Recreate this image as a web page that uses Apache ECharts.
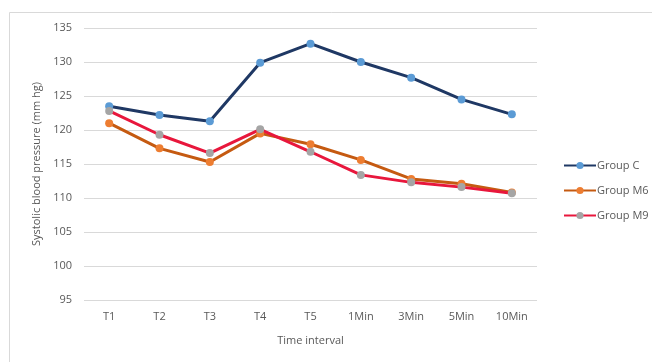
<!DOCTYPE html>
<html>
<head>
<meta charset="utf-8">
<style>
  html, body { margin: 0; padding: 0; background: #fff; }
  #chart { width: 652px; height: 362px; }
</style>
<script src="https://cdn.jsdelivr.net/npm/echarts@6/dist/echarts.min.js"></script>
</head>
<body>
<div id="chart"></div>
<script>
// Time points on the x axis
const categories = ['T1', 'T2', 'T3', 'T4', 'T5', '1Min', '3Min', '5Min', '10Min'];

// Mean systolic blood pressure (mm hg) per group
const groupC  = [123.5, 122.2, 121.3, 129.9, 132.7, 130.0, 127.7, 124.5, 122.3];
const groupM6 = [121.0, 117.3, 115.3, 119.5, 117.9, 115.6, 112.8, 112.1, 110.8];
const groupM9 = [122.8, 119.3, 116.6, 120.1, 116.8, 113.4, 112.3, 111.6, 110.7];

const seriesNames = ['Group C', 'Group M6', 'Group M9'];

// Y axis range
const yMin = 95, yMax = 135, yStep = 5;

const FONT = '"Open Sans", Lato, sans-serif';
const TEXT = '#595959';

function lineSeries(name, data, lineColor, markerColor) {
  return {
    name: name,
    type: 'line',
    data: data,
    symbol: 'circle',
    symbolSize: 8,
    lineStyle: { color: lineColor, width: 3 },
    itemStyle: { color: markerColor, borderWidth: 0 },
    emphasis: { disabled: true },
    z: 2
  };
}

const chart = echarts.init(document.getElementById('chart'));
chart.setOption({
  animation: false,
  backgroundColor: '#fff',
  textStyle: { fontFamily: FONT, color: TEXT },
  graphic: [{
    type: 'rect',
    shape: { x: 9.5, y: 12.5, width: 700, height: 400 },
    style: { fill: 'none', stroke: '#D9D9D9', lineWidth: 1 },
    silent: true,
    z: -1
  }],
  grid: { left: 84, right: 115, top: 28, bottom: 62 },
  legend: {
    orient: 'vertical',
    left: 558,
    top: 155,
    itemWidth: 32,
    itemHeight: 9,
    itemGap: 14,
    textStyle: { fontFamily: FONT, fontSize: 11, color: TEXT, padding: [0, 0, 0, -4] },
    data: seriesNames
  },
  xAxis: {
    type: 'category',
    data: categories,
    boundaryGap: true,
    name: 'Time interval',
    nameLocation: 'middle',
    nameGap: 35,
    nameTextStyle: { fontFamily: FONT, fontSize: 11, color: TEXT },
    axisLine: { show: false },
    axisTick: { show: false },
    axisLabel: { fontFamily: FONT, fontSize: 11, color: TEXT, margin: 11 }
  },
  yAxis: {
    type: 'value',
    min: yMin,
    max: yMax,
    interval: yStep,
    name: 'Systolic blood pressure (mm hg)',
    nameLocation: 'middle',
    nameRotate: 90,
    nameGap: 33,
    nameTextStyle: { fontFamily: FONT, fontSize: 11, color: TEXT },
    axisLine: { show: false },
    axisTick: { show: false },
    axisLabel: { fontFamily: FONT, fontSize: 11, color: TEXT, margin: 12 },
    splitLine: { lineStyle: { color: '#D9D9D9', width: 1 } }
  },
  series: [
    lineSeries(seriesNames[0], groupC,  '#1F3864', '#5B9BD5'),
    lineSeries(seriesNames[1], groupM6, '#C55A11', '#ED7D31'),
    lineSeries(seriesNames[2], groupM9, '#E8173C', '#A5A5A5')
  ]
});
</script>
</body>
</html>
